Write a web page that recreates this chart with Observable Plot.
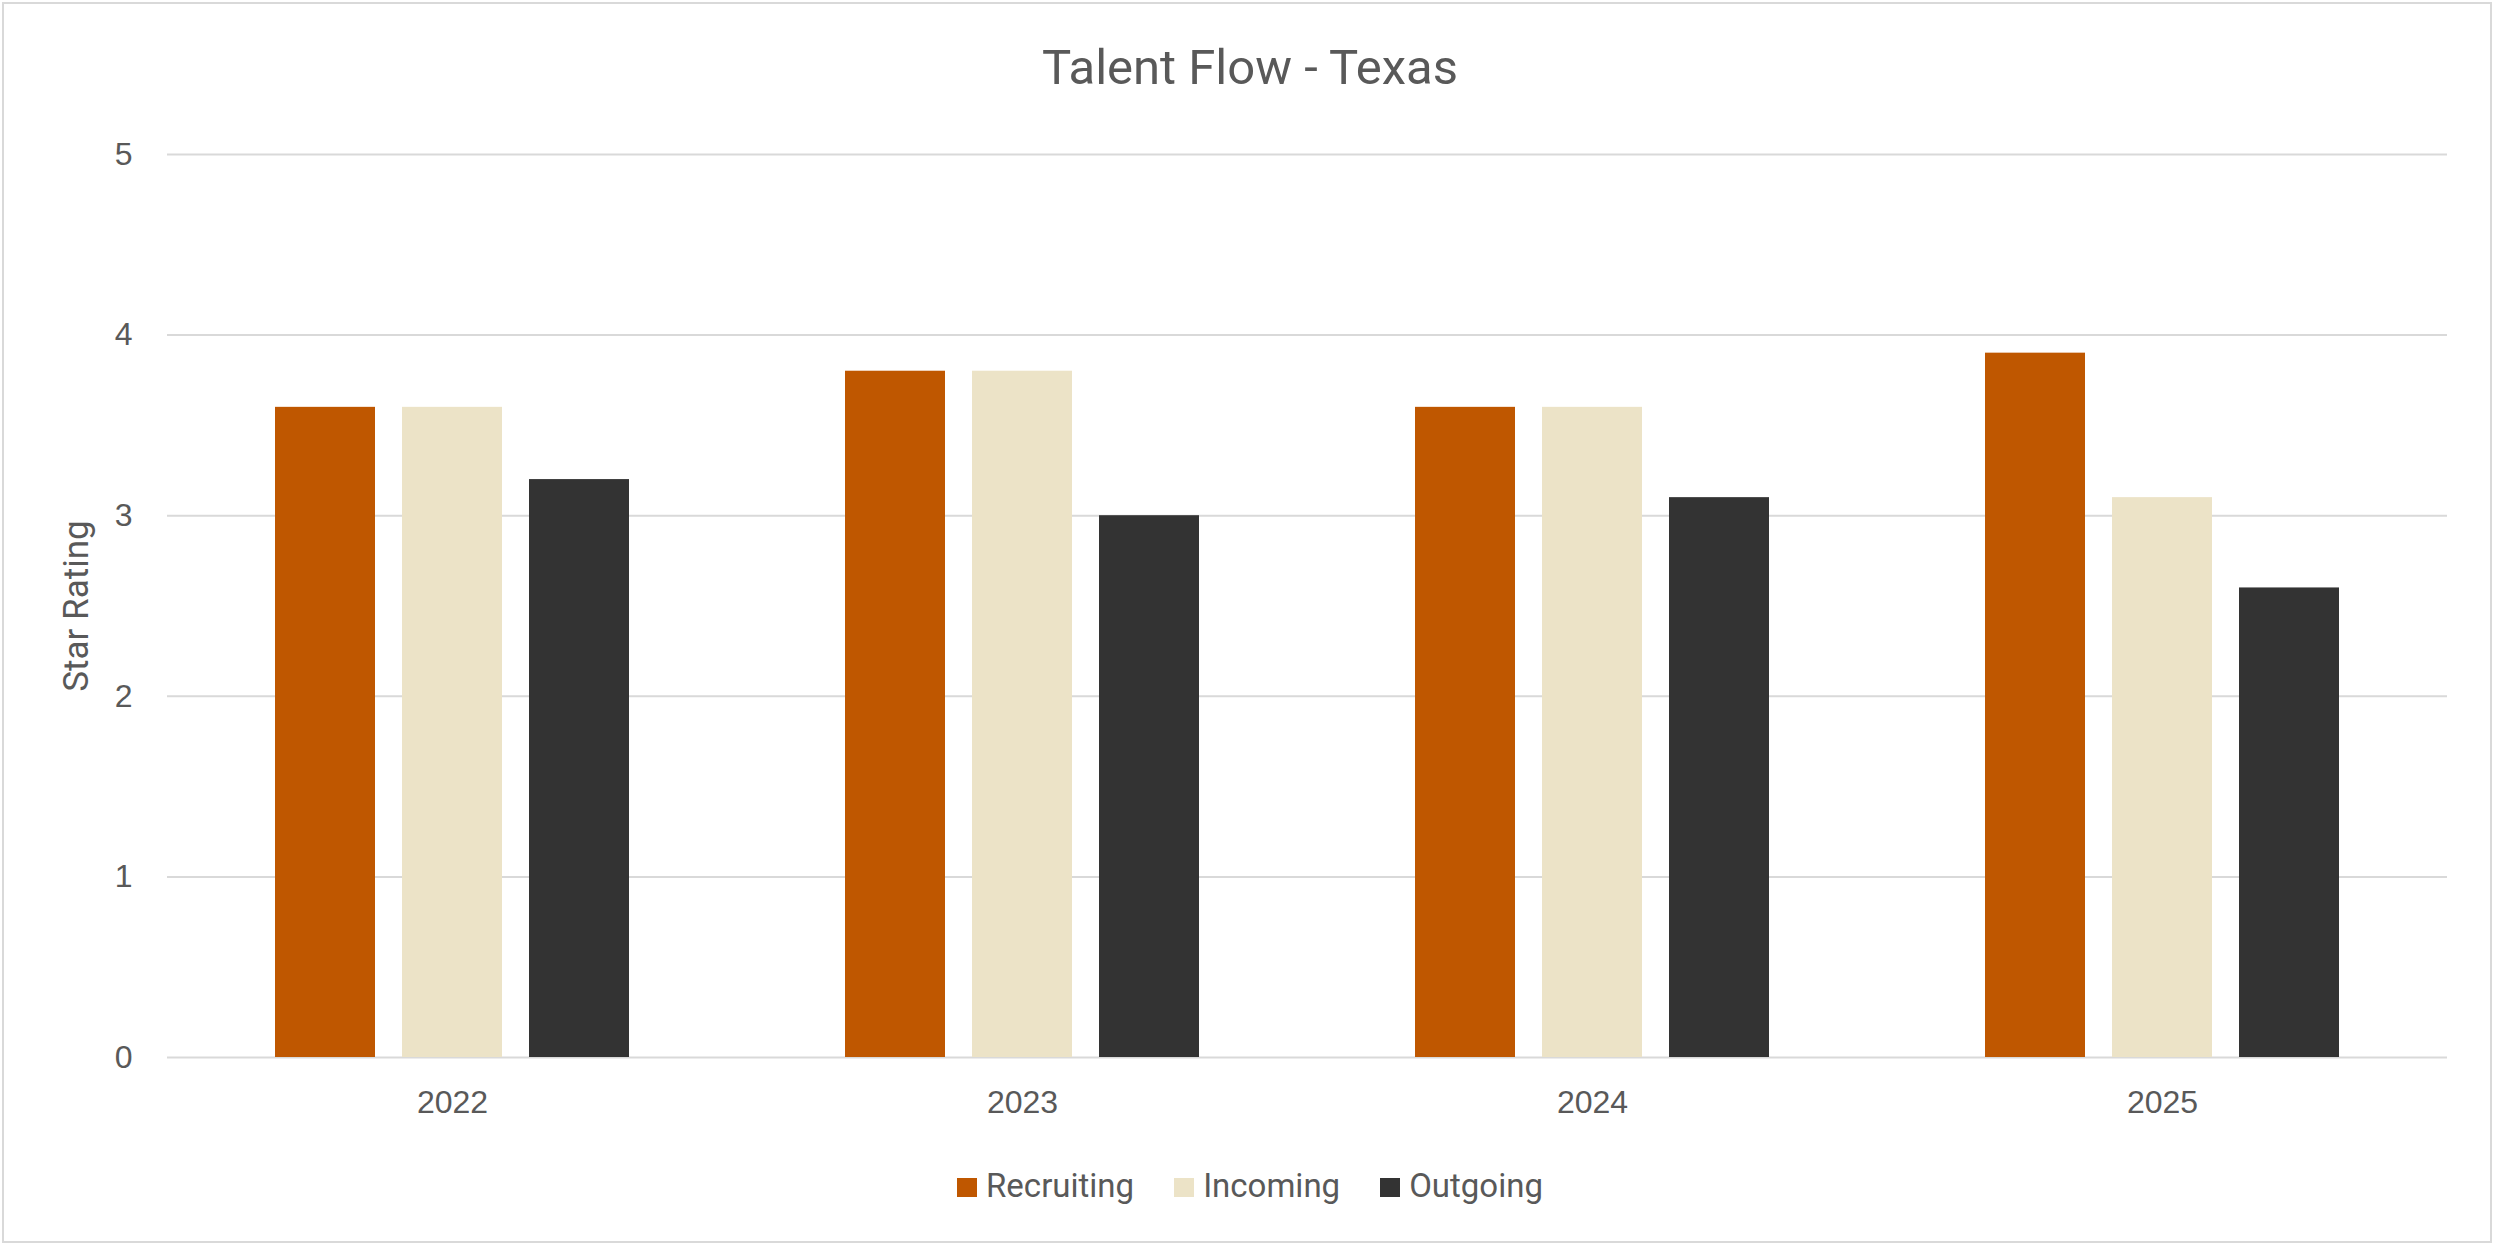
<!DOCTYPE html>
<html>
<head>
<meta charset="utf-8">
<script src="https://cdn.jsdelivr.net/npm/d3@7"></script>
<script src="https://cdn.jsdelivr.net/npm/@observablehq/plot@0.6"></script>
<style>
  html, body { margin: 0; padding: 0; background: #ffffff; }
  body { width: 2500px; height: 1252px; position: relative; overflow: hidden; }
  #frame { position: absolute; left: 2px; top: 2px; width: 2490px; height: 1241px; box-sizing: border-box; border: 2px solid #d9d9d9; }
  #title { position: relative; height: 120px; box-sizing: border-box; padding-top: 39px; text-align: center; font-family: Roboto, sans-serif; font-size: 49px; color: #595959; line-height: normal; }
  #chart { position: relative; width: 2500px; height: 1020px; }
  #chart svg { position: absolute; left: 0; top: 0; overflow: visible; }
  #legend { position: relative; height: 90px; display: flex; justify-content: center; align-items: center; gap: 40px; font-family: Roboto, sans-serif; font-size: 33px; color: #595959; }
  .item { display: flex; align-items: center; }
  .swatch { width: 20px; height: 19px; margin-right: 9px; margin-top: 4px; }
  [aria-label="y-axis label"] text { font-family: Roboto, sans-serif; font-size: 35px; }
</style>
</head>
<body>
<div id="frame"></div>
<div id="title"></div>
<div id="chart"></div>
<div id="legend"></div>
<script>
const titleText = "Talent Flow - Texas";
const yLabel = "Star Rating";
const years = ["2022", "2023", "2024", "2025"];
const series = ["Recruiting", "Incoming", "Outgoing"];
const recruiting = [3.6, 3.8, 3.6, 3.9];
const incoming = [3.6, 3.8, 3.6, 3.1];
const outgoing = [3.2, 3.0, 3.1, 2.6];
const yTicks = [0, 1, 2, 3, 4, 5];
const colors = ["#BF5700", "#ECE3C7", "#333333"];

const seriesValues = [recruiting, incoming, outgoing];
const data = [];
years.forEach((yr, i) => {
  series.forEach((s, j) => {
    data.push({year: yr, series: s, value: seriesValues[j][i]});
  });
});

document.getElementById("title").textContent = titleText;

const W = 2500, H = 1020;
const common = {
  width: W, height: H,
  marginTop: 34, marginBottom: 83, marginLeft: 167, marginRight: 53,
  style: {background: "transparent", color: "#595959", fontFamily: "'Liberation Sans', Arial, sans-serif"}
};
const bandPad = {paddingInner: 0.379, paddingOuter: 0.1895};

// Base layer: gridlines and axes
const base = Plot.plot({
  ...common,
  x: {type: "band", domain: years, ...bandPad},
  y: {domain: [0, 5]},
  marks: [
    Plot.ruleY(yTicks, {stroke: "#d9d9d9", strokeWidth: 2}),
    Plot.axisY(yTicks, {tickSize: 0, tickPadding: 35, fontSize: 32, tickFormat: d => String(d), label: yLabel, labelAnchor: "center", labelOffset: 104, labelArrow: false}),
    Plot.axisX(years, {tickSize: 0, tickPadding: 33, fontSize: 32, label: null})
  ]
});

// Bar layer: faceted grouped bars
const bars = Plot.plot({
  ...common,
  fx: {domain: years, ...bandPad, axis: null, label: null},
  x: {domain: series, paddingInner: 0.2126, paddingOuter: 0, axis: null, label: null},
  y: {domain: [0, 5], axis: null},
  color: {domain: series, range: colors},
  marks: [
    Plot.barY(data, {fx: "year", x: "series", y: "value", fill: "series"})
  ]
});

const chart = document.getElementById("chart");
chart.appendChild(base);
chart.appendChild(bars);

const legend = document.getElementById("legend");
series.forEach((s, j) => {
  const item = document.createElement("div");
  item.className = "item";
  const sw = document.createElement("span");
  sw.className = "swatch";
  sw.style.background = colors[j];
  const tx = document.createElement("span");
  tx.textContent = s;
  item.appendChild(sw);
  item.appendChild(tx);
  legend.appendChild(item);
});
</script>
</body>
</html>
